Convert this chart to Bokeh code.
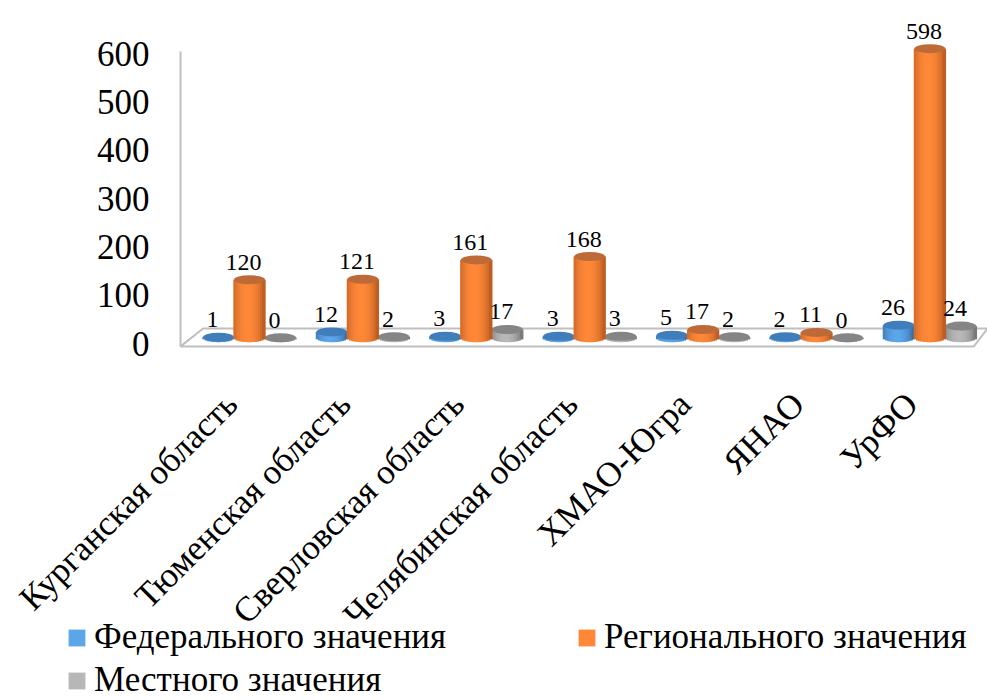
import math
from bokeh.embed import file_html
from bokeh.resources import INLINE
from bokeh.plotting import figure
from bokeh.models import Range1d, FixedTicker, Legend, LegendItem
from bokeh.core.properties import value

categories = ["Курганская область", "Тюменская область", "Сверловская область",
              "Челябинская область", "ХМАО-Югра", "ЯНАО", "УрФО"]
federal = [1, 12, 3, 3, 5, 2, 26]
regional = [120, 121, 161, 168, 17, 11, 598]
local = [0, 2, 17, 3, 2, 0, 24]
y_ticks = [0, 100, 200, 300, 400, 500, 600]
series_names = ["Федерального значения", "Регионального значения", "Местного значения"]

FONT = "Liberation Serif"
W, H = 987, 700
px_y = 0.4833        # px per value
px_x = 113.4         # px per category
first_cat_px = 249   # page x of first category
zero_px = 343        # page y of value 0
x0 = -first_cat_px / px_x
x1 = x0 + W / px_x
y1 = zero_px / px_y
y0 = y1 - H / px_y
wall_x = -0.608      # the value-axis wall
floor_front = -6.0
floor_back = 31.0
depth = 12           # bars stand this far up the floor
dodge_u = 31 / px_x
bar_w = 31 / px_x
strips = 14
ell_h = 9 / px_y
label_shift = -0.16

p = figure(width=W, height=H, output_backend="svg", toolbar_location=None,
           x_range=Range1d(x0, x1), y_range=Range1d(y0, y1),
           min_border_left=0, min_border_right=0, min_border_top=0, min_border_bottom=0,
           outline_line_color=None, background_fill_color="white", border_fill_color="white")
p.grid.visible = False

ya = p.yaxis[0]
ya.fixed_location = wall_x
ya.ticker = FixedTicker(ticks=y_ticks)
ya.bounds = (floor_front, 604)
ya.major_tick_line_color = None
ya.minor_tick_line_color = None
ya.axis_line_color = "#BFBFBF"
ya.axis_line_width = 2
ya.major_label_text_font = FONT
ya.major_label_text_font_size = "35px"
ya.major_label_text_color = "black"
ya.major_label_standoff = 25

xa = p.xaxis[0]
xa.fixed_location = floor_front
tick_pos = [i + label_shift for i in range(len(categories))]
xa.ticker = FixedTicker(ticks=tick_pos)
xa.major_label_overrides = dict(zip(tick_pos, categories))
xa.major_label_orientation = math.pi / 4
xa.major_tick_line_color = None
xa.minor_tick_line_color = None
xa.axis_line_color = None
xa.major_label_text_font = FONT
xa.major_label_text_font_size = "35px"
xa.major_label_text_color = "black"
xa.major_label_standoff = 46

# floor of the 3D box
p.patch([wall_x, wall_x + 0.2, x1, x1 - 0.12], [floor_front, floor_back, floor_back, floor_front],
        fill_color="white", line_color="#BFBFBF", line_width=2)


def mix(a, b, t):
    return "#%02x%02x%02x" % tuple(round(a[i] + (b[i] - a[i]) * t) for i in range(3))


def cylinders(vals, off, edge, mid, top):
    xs = [i + off for i in range(len(vals))]
    first = None
    for s in range(strips):
        t = (s + 0.5) / strips * 2 - 1          # -1 .. 1 across the cylinder
        sag = math.sqrt(1 - t * t) * ell_h / 2
        shade = max(0.0, math.cos(min(1.0, abs(t + 0.08)) * math.pi / 2)) ** 0.7
        r = p.vbar(x=[x + t * bar_w / 2 for x in xs], width=bar_w / strips * 1.6,
                   bottom=[depth - sag] * len(vals), top=[depth + v for v in vals],
                   fill_color=mix(edge, mid, shade), line_color=None)
        if s == strips // 2:
            first = r
    p.ellipse(x=xs, y=[depth + v for v in vals], width=bar_w, height=ell_h,
              fill_color=top, line_color=None)
    return first


blue = cylinders(federal, -dodge_u, (0x3A, 0x6E, 0xA5), (0x5C, 0xA6, 0xEA), "#3F7DBB")
gray = cylinders(local, dodge_u, (0x7A, 0x7A, 0x7A), (0xB8, 0xB8, 0xB8), "#858585")
orng = cylinders(regional, 0, (0xBE, 0x5E, 0x22), (0xFF, 0x88, 0x38), "#BE6A38")

for vals, off in ((federal, -dodge_u), (regional, 0), (local, dodge_u)):
    p.text(x=[i + off for i in range(len(vals))], y=[depth + v for v in vals],
           text=[str(v) for v in vals], text_font=value(FONT), text_font_size="24px",
           text_color="black", text_align="center", text_baseline="bottom",
           x_offset=-6, y_offset=-10)

for name, rend, xp, yb in ((series_names[0], blue, 66, 657), (series_names[1], orng, 576, 657),
                           (series_names[2], gray, 66, 700)):
    lg = Legend(items=[LegendItem(label=value(name), renderers=[rend])],
                location=(xp, H - yb),
                padding=0, margin=0, spacing=0, label_standoff=7,
                glyph_width=21, glyph_height=21, border_line_color=None,
                background_fill_alpha=0, label_text_font=FONT,
                label_text_font_size="35px", label_text_color="black")
    p.add_layout(lg, "center")

open("out.html", "w").write(file_html(p, INLINE))
